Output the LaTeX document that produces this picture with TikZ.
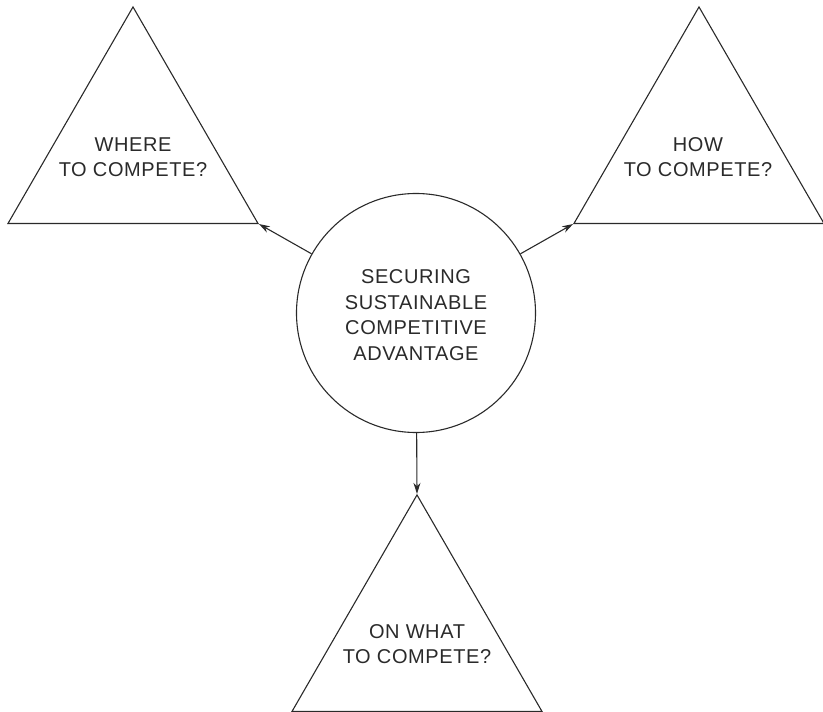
\documentclass[tikz,border=0pt]{standalone}
\usepackage{fontspec}
\setmainfont[LetterSpace=3]{Liberation Sans}
\usetikzlibrary{shapes.geometric,arrows.meta}
\definecolor{ink}{HTML}{2A2A2A}
\begin{document}
\begin{tikzpicture}[x=1pt,y=-1pt,
  tri/.style={regular polygon, regular polygon sides=3, minimum size=288.7pt,
              inner sep=0pt, draw=ink, line width=1.1pt},
  hub/.style={circle, minimum size=239pt, inner sep=0pt, draw=ink, line width=1.1pt},
  lbl/.style={text=ink, font=\fontsize{20}{25.5}\selectfont, align=center, inner sep=0pt},
  link/.style={draw=ink, line width=1.1pt, -{Stealth[length=11pt,width=7pt]}}]
\useasboundingbox (0,0) rectangle (823,712);

% central goal
\node[hub] (core) at (416,313) {};
\node[lbl] (coreText) at (416,315) {SECURING\\SUSTAINABLE\\COMPETITIVE\\ADVANTAGE};

% the three strategic questions
\node[tri] (where) at (133,151.3) {};
\node[lbl] (whereText) at (133,157) {WHERE\\TO COMPETE?};

\node[tri] (how) at (699,151.3) {};
\node[lbl] (howText) at (698,157) {HOW\\TO COMPETE?};

\node[tri] (what) at (417,639.3) {};
\node[lbl] (whatText) at (417,644) {ON WHAT\\TO COMPETE?};

% links from the goal to each question
\draw[link] (core) -- (where.corner 3);
\draw[link] (core) -- (how.corner 2);
\draw[link] (core) -- (what.corner 1);
\end{tikzpicture}
\end{document}
